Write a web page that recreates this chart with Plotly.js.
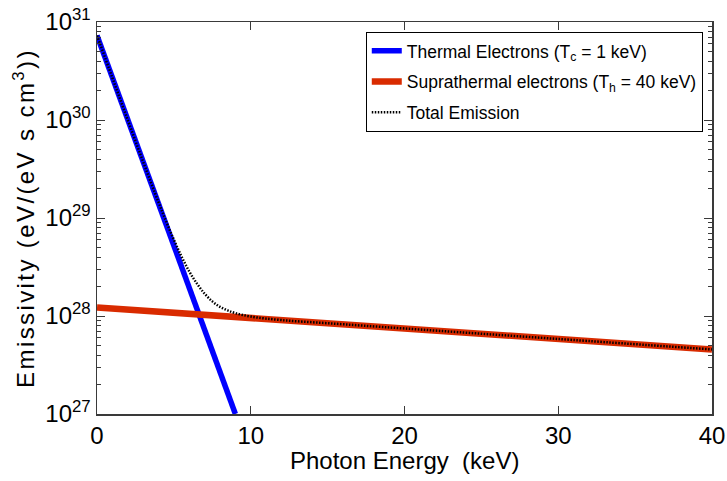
<!DOCTYPE html>
<html>
<head>
<meta charset="utf-8">
<script src="https://cdn.plot.ly/plotly-3.0.1.min.js"></script>
<style>
  html, body { margin: 0; padding: 0; background: #fff; }
  #chart { width: 727px; height: 481px; }
  .ytitle { letter-spacing: 2.4px; }
</style>
</head>
<body>
<div id="chart"></div>
<script>
// Photon energy grid (keV) and emissivities (eV/(eV s cm^3))
const thermalE = [0, 9.0];
const thermalY = [7.3e30, 1.0e27];

const supraE = [0, 40];
const supraY = [1.22e28, 4.56e27];

const totalE = [0, 1, 2, 3, 4, 4.5, 5, 5.5, 6, 6.5, 7, 7.5, 8, 8.5, 9, 10, 12, 15, 20, 30, 40];
const totalY = [7.3e30, 2.7e30, 1.0e30, 3.75e29, 1.45e29, 9.2e28, 6.0e28, 4.04e28, 2.85e28,
                2.14e28, 1.69e28, 1.41e28, 1.24e28, 1.14e28, 1.07e28, 9.87e27, 9.08e27,
                8.44e27, 7.46e27, 5.83e27, 4.56e27];

const seriesNames = [
  'Thermal Electrons (T<sub>c</sub> = 1 keV)',
  'Suprathermal electrons (T<sub>h</sub> = 40 keV)',
  'Total Emission'
];

const xTicks = [0, 10, 20, 30, 40];
const yDecades = [27, 28, 29, 30, 31];

const yTickVals = yDecades.map(d => Math.pow(10, d));
const yTickText = yDecades.map(d => '10<sup>' + d + '</sup>');
// log minor ticks (2..9 within each decade), drawn on an overlaid axis
const yMinor = [];
for (let d = 27; d < 31; d++) {
  for (let m = 2; m <= 9; m++) yMinor.push(m * Math.pow(10, d));
}

const FONT = '"Liberation Sans", Arial, Helvetica, sans-serif';
const AXIS = '#3a3a3a';

const traces = [
  { x: thermalE, y: thermalY, name: seriesNames[0], mode: 'lines', legendgroup: 'g1',
    line: { color: '#0000ff', width: 5.5 } },
  { x: supraE, y: supraY, name: seriesNames[1], mode: 'lines', legendgroup: 'g2',
    line: { color: '#d92b00', width: 6.5 } },
  // the total sits on the overlaid axis (same log range), which also carries the minor ticks
  { x: totalE, y: totalY, name: seriesNames[2], mode: 'lines', legendgroup: 'g3', yaxis: 'y2',
    line: { color: '#000000', width: 2.5, dash: '1.5px,1.5px', shape: 'spline' } }
];

const layout = {
  width: 727, height: 481,
  margin: { l: 97, r: 15, t: 21.5, b: 67 },
  paper_bgcolor: '#ffffff', plot_bgcolor: '#ffffff',
  font: { family: FONT, color: '#000' },
  showlegend: true,
  legend: {
    x: 0.985, xanchor: 'right', y: 0.975, yanchor: 'top',
    bgcolor: '#ffffff', bordercolor: '#000000', borderwidth: 1,
    font: { family: FONT, size: 17.5, color: '#000' },
    itemwidth: 30, tracegroupgap: 5
  },
  xaxis: {
    range: [0, 40], tickvals: xTicks, ticktext: xTicks.map(String),
    ticks: 'inside', ticklen: 8, tickwidth: 1, tickcolor: AXIS,
    showline: true, linecolor: AXIS, linewidth: 1.5, mirror: 'ticks',
    showgrid: false, zeroline: false,
    tickfont: { family: FONT, size: 24, color: '#000' }
  },
  yaxis: {
    type: 'log', range: [27, 31],
    tickmode: 'array', tickvals: yTickVals, ticktext: yTickText,
    ticks: 'inside', ticklen: 8, tickwidth: 1, tickcolor: AXIS,
    showline: true, linecolor: AXIS, linewidth: 1.5, mirror: 'ticks',
    showgrid: false, zeroline: false,
    tickfont: { family: FONT, size: 24, color: '#000' },
    title: { text: 'Emissivity (eV/(eV s cm<sup>3</sup>))', font: { family: FONT, size: 24, color: '#000' }, standoff: 4 }
  },
  yaxis2: {
    type: 'log', range: [27, 31], overlaying: 'y', anchor: 'x', side: 'left',
    tickmode: 'array', tickvals: yMinor, showticklabels: false,
    ticks: 'inside', ticklen: 4, tickwidth: 1, tickcolor: AXIS,
    showline: false, mirror: 'ticks', showgrid: false, zeroline: false
  },
  annotations: [{
    text: 'Photon Energy&nbsp; (keV)', xref: 'paper', yref: 'paper',
    x: 0.5, y: 0, xanchor: 'center', yanchor: 'top', yshift: -31, showarrow: false,
    font: { family: FONT, size: 24, color: '#000' }
  }]
};

Plotly.newPlot('chart', traces, layout, { staticPlot: true, displayModeBar: false });
</script>
</body>
</html>
